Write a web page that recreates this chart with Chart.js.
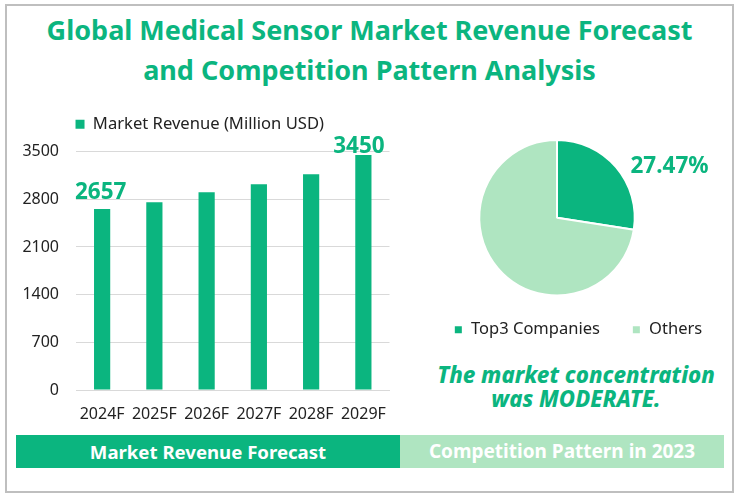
<!DOCTYPE html>
<html>
<head>
<meta charset="utf-8">
<script src="https://cdn.jsdelivr.net/npm/chart.js@4"></script>
<style>
    html, body { margin: 0; padding: 0; background: #fff; }
    body { width: 736px; height: 495px; position: relative; overflow: hidden; font-family: "Noto Sans", sans-serif; }
    .frame { position: absolute; left: 5px; top: 4px; width: 725px; height: 485px; border: 2px solid #bfbfbf; }
    .title { position: absolute; left: 0; top: 10px; width: 739px; text-align: center; color: #0bb57f; font-size: 27px; font-weight: 700; line-height: 40px; }
    .note { position: absolute; left: 400px; top: 363px; width: 352px; text-align: center; color: #0bb57f; font-size: 22.2px; font-weight: 800; font-style: italic; line-height: 24px; }
    .band { position: absolute; top: 435px; height: 33px; line-height: 33px; text-align: center; color: #fff; font-weight: 700; }
    #band-left { left: 16px; width: 384px; background: #0bb57f; font-size: 18.6px; }
    #band-right { left: 400px; width: 324px; background: #afe5c1; font-size: 19px; }
    .box { position: absolute; }
    #bar-box { left: 10px; top: 110px; width: 385px; height: 316px; }
    #pie-box { left: 397px; top: 139px; width: 320px; height: 216px; }
</style>
</head>
<body>
<div class="frame"></div>
<div class="title">Global Medical Sensor Market Revenue Forecast<br>and Competition Pattern Analysis</div>
<div class="box" id="bar-box"><canvas id="bar-chart"></canvas></div>
<div class="box" id="pie-box"><canvas id="pie-chart"></canvas></div>
<div class="note">The market concentration<br>was MODERATE.</div>
<div class="band" id="band-left">Market Revenue Forecast</div>
<div class="band" id="band-right">Competition Pattern in 2023</div>
<script>
const years = ['2024F', '2025F', '2026F', '2027F', '2028F', '2029F'];
const revenue = [2657, 2757, 2904, 3021, 3167, 3450];
const yTicks = [0, 700, 1400, 2100, 2800, 3500];
const shareLabels = ['Top3 Companies', 'Others'];
const shares = [27.47, 72.53];

const GREEN = '#0bb57f';
const LIGHT = '#afe5c1';
const FONT = '"Noto Sans", sans-serif';

// first and last bar get a big label, the last one sits lower and overlaps the bar
const barLabels = {
    id: 'barLabels',
    afterDatasetsDraw(chart) {
        const ctx = chart.ctx;
        const bars = chart.getDatasetMeta(0).data;
        const last = bars.length - 1;
        ctx.save();
        ctx.fillStyle = GREEN;
        ctx.font = 'bold 22.5px ' + FONT;
        ctx.textAlign = 'center';
        ctx.textBaseline = 'middle';
        ctx.fillText(String(revenue[0]), bars[0].x - 1.5, bars[0].y - 16);
        ctx.fillText(String(revenue[last]), bars[last].x - 4.5, bars[last].y - 8.5);
        ctx.restore();
    }
};

// more room between the legend and the plot
const legendGap = {
    id: 'legendGap',
    beforeInit(chart) {
        const fit = chart.legend.fit;
        chart.legend.fit = function () {
            fit.call(this);
            this.height += 9;
        };
    }
};

const pieLabel = {
    id: 'pieLabel',
    afterDatasetsDraw(chart) {
        const arc = chart.getDatasetMeta(0).data[0];
        const ctx = chart.ctx;
        ctx.save();
        ctx.fillStyle = GREEN;
        ctx.font = 'bold 22.5px ' + FONT;
        ctx.textBaseline = 'middle';
        ctx.fillText(shares[0] + '%', arc.x + 73.5, arc.y - 51);
        ctx.restore();
    }
};

// pie legend is off centre from the pie
const moveLegend = {
    id: 'moveLegend',
    afterLayout(chart) {
        chart.legend.left += 21;
        chart.legend.right += 21;
        chart.legend.top -= 7;
        chart.legend.bottom -= 7;
    }
};

new Chart(document.getElementById('bar-chart'), {
    type: 'bar',
    data: {
        labels: years,
        datasets: [{
            label: 'Market Revenue (Million USD)',
            data: revenue,
            backgroundColor: GREEN,
            borderWidth: 0,
            categoryPercentage: 1,
            barPercentage: 0.31
        }]
    },
    options: {
        responsive: true,
        maintainAspectRatio: false,
        animation: false,
        layout: { padding: { top: 0, right: 5.5, bottom: 0, left: 0 } },
        plugins: {
            legend: {
                position: 'top',
                labels: { color: '#222', boxWidth: 9, boxHeight: 9, padding: 6, font: { size: 16.6, family: FONT } }
            },
            tooltip: { enabled: false }
        },
        scales: {
            x: {
                afterFit(axis) { axis.height = 36; },
                grid: { display: false },
                border: { color: '#d9d9d9' },
                ticks: { color: '#222', maxRotation: 0, autoSkip: false, padding: 7, font: { size: 16, family: FONT } }
            },
            y: {
                min: 0,
                max: 3500,
                afterFit(axis) { axis.width = 66; },
                afterBuildTicks(axis) { axis.ticks = yTicks.map(v => ({ value: v })); },
                grid: { color: '#d9d9d9', drawTicks: false },
                border: { display: false },
                ticks: { color: '#222', padding: 17, callback: v => String(v), font: { size: 16, family: FONT } }
            }
        }
    },
    plugins: [barLabels, legendGap]
});

new Chart(document.getElementById('pie-chart'), {
    type: 'pie',
    data: {
        labels: shareLabels,
        datasets: [{
            data: shares,
            backgroundColor: [GREEN, LIGHT],
            borderColor: '#fff',
            borderWidth: 2
        }]
    },
    options: {
        responsive: true,
        maintainAspectRatio: false,
        animation: false,
        plugins: {
            legend: {
                position: 'bottom',
                labels: { color: '#222', boxWidth: 9, boxHeight: 9, padding: 32, font: { size: 16.5, family: FONT } }
            },
            tooltip: { enabled: false }
        }
    },
    plugins: [pieLabel, moveLegend]
});
</script>
</body>
</html>
